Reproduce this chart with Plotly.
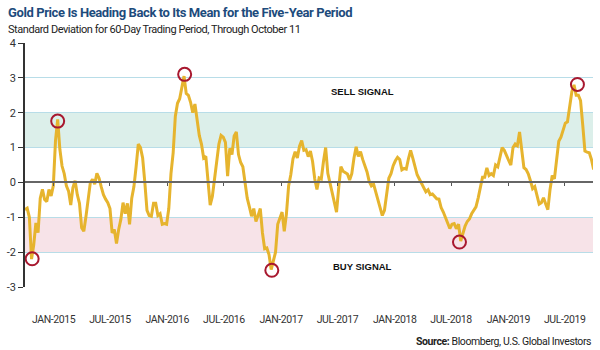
import pandas as pd
import plotly.graph_objects as go

# ---- data ----
start_date = "2014-10-01"
std_dev = [
    -0.78, -0.74, -1.0, -2.2, -1.8, -1.16, -1.44, -0.45, -0.2, -0.49,
    -0.55, -0.2, -0.39, -0.1, 1.2, 1.81, 0.95, 0.47, 0.25, -0.1,
    -0.25, -0.65, -0.15, 0.05, -0.35, -0.6, -1.3, -1.4, -0.97, -0.55,
    0.0, 0.09, -0.05, 0.26, 0.12, -0.13, -0.35, -0.48, -0.58, -0.75,
    -1.45, -1.35, -1.75, -1.35, -1.06, -0.58, -0.9, -0.6, -1.2, -0.45,
    -0.12, 0.45, 1.1, 1.0, 0.7, 0.0, -0.8, -0.95, -0.97, -0.6,
    -0.6, -0.95, -0.9, -1.2, -1.18, -1.2, -0.75, 0.25, 0.85, 1.9,
    2.27, 2.4, 2.7, 3.05, 2.55, 2.5, 2.3, 2.0, 2.25, 1.85,
    1.35, 1.1, 0.7, 0.75, 0.05, -0.65, -0.4, 0.15, 0.7, 1.1,
    1.35, 1.3, 1.15, 0.18, 0.98, 0.8, 1.33, 1.45, 0.8, 0.57,
    0.45, 0.0, -0.45, -0.7, -0.97, -0.75, -1.12, -0.95, -0.75, -1.45,
    -1.9, -1.88, -2.07, -2.5, -2.25, -2.0, -1.2, -1.03, -0.85, -1.4,
    -0.9, -0.1, 0.22, 0.68, 0.88, 0.7, 1.04, 1.2, 0.92, 0.94,
    0.74, 0.9, 0.6, 0.1, -0.2, 0.13, 0.1, 0.6, 1.0, 0.26,
    -0.04, -0.24, -0.58, -0.85, -0.15, 0.45, 0.32, 0.28, 0.24, 0.07,
    0.25, 0.7, 1.02, 0.75, 0.88, 0.66, 0.5, 0.3, 0.03, -0.1,
    -0.05, -0.26, -0.47, -0.72, -0.95, -0.8, -0.25, 0.12, 0.25, 0.48,
    0.62, 0.72, 0.66, 0.36, 0.4, 0.38, 0.68, 0.92, 0.7, 0.43,
    0.22, 0.1, -0.02, -0.15, -0.27, -0.21, -0.35, -0.33, -0.39, -0.47,
    -0.48, -0.72, -0.85, -1.0, -1.15, -1.32, -1.2, -1.18, -1.33, -1.2,
    -1.68, -1.45, -1.25, -1.12, -1.05, -0.9, -0.78, -0.7, -0.45, -0.15,
    0.15, 0.15, 0.42, 0.2, 0.25, 0.2, 0.5, 0.45, 0.77, 1.0,
    0.92, 0.76, 0.63, 0.5, 1.0, 1.1, 1.05, 1.45, 0.95, 0.42,
    0.37, 0.25, 0.05, -0.18, -0.12, -0.37, -0.62, -0.58, -0.44, -0.62,
    -0.78, -0.2, 0.2, 0.1, 0.75, 1.18, 1.3, 1.54, 1.7, 1.74,
    2.15, 2.6, 2.8, 2.5, 2.5, 2.35, 1.65, 0.9, 0.87, 0.85,
    0.66, 0.37,
]
dates = pd.date_range(start_date, periods=len(std_dev), freq="7D")

circle_dates = ["2014-10-24", "2015-01-14", "2016-02-26", "2016-12-02", "2018-07-28", "2019-08-11"]
circle_values = [-2.19, 1.76, 3.1, -2.52, -1.71, 2.81]

tick_dates = ["2015-01-01", "2015-07-01", "2016-01-01", "2016-07-01", "2017-01-01",
              "2017-07-01", "2018-01-01", "2018-07-01", "2019-01-01", "2019-07-01"]
tick_labels = ["JAN-2015", "JUL-2015", "JAN-2016", "JUL-2016", "JAN-2017",
               "JUL-2017", "JAN-2018", "JUL-2018", "JAN-2019", "JUL-2019"]
y_ticks = [-3, -2, -1, 0, 1, 2, 3, 4]
y_tick_labels = ["-3", "-2", "-1", "0", "1", "2", "3", "4"]

title = "Gold Price Is Heading Back to Its Mean for the Five-Year Period"
subtitle = "Standard Deviation for 60-Day Trading Period, Through October 11"
source_label = "Source:"
source_text = "Bloomberg, U.S. Global Investors"
sell_label = "SELL SIGNAL"
buy_label = "BUY SIGNAL"

x_range = ["2014-10-01", "2019-09-30"]
y_range = [-3, 4]

FONT = "Roboto, Liberation Sans, Arial, sans-serif"


def tight(text, spacing):
    return f'<span style="letter-spacing:{spacing}px">{text}</span>'


fig = go.Figure()
fig.add_trace(go.Scatter(
    x=dates, y=std_dev, mode="lines",
    line=dict(color="#e6b42e", width=3),
    hoverinfo="skip", showlegend=False,
))
fig.add_trace(go.Scatter(
    x=circle_dates, y=circle_values, mode="markers", xaxis="x2",
    marker=dict(symbol="circle", size=13, color="rgba(0,0,0,0)",
                line=dict(color="#a8182f", width=2)),
    hoverinfo="skip", showlegend=False,
))

fig.add_hrect(y0=1, y1=2, fillcolor="#dcefea", line_width=0, layer="below")
fig.add_hrect(y0=-2, y1=-1, fillcolor="#f7e3e8", line_width=0, layer="below")

fig.update_layout(
    width=600, height=350,
    margin=dict(l=22, r=7, t=43, b=63),
    paper_bgcolor="white", plot_bgcolor="white",
    font=dict(family=FONT, color="#333333", size=11),
    xaxis=dict(
        type="date", range=x_range, anchor="free", position=3 / 7,
        showline=True, linecolor="#666666", linewidth=1.5,
        ticks="outside", ticklen=3, tickwidth=1, tickcolor="#555555",
        tickvals=tick_dates, showticklabels=False, showgrid=False, zeroline=False,
    ),
    xaxis2=dict(
        type="date", overlaying="x", matches="x", anchor="y", side="bottom",
        showline=False, ticks="", showgrid=False, zeroline=False,
        tickvals=tick_dates, ticktext=[tight(t, -0.4) for t in tick_labels],
        ticklabelstandoff=24,
        tickfont=dict(family=FONT, size=10.5, color="#333333"),
    ),
    yaxis=dict(
        range=y_range, tickvals=y_ticks, ticktext=y_tick_labels,
        showline=True, linecolor="#333333", linewidth=1.5,
        ticks="outside", ticklen=5, tickcolor="#333333",
        showgrid=True, gridcolor="#b8dde8", gridwidth=1, zeroline=False,
        tickfont=dict(family=FONT, size=11, color="#333333"),
    ),
)

fig.add_annotation(text=tight(f"<b>{title}</b>", -0.4), xref="paper", yref="paper",
                   x=-0.0333, y=1.127, xanchor="left", yanchor="middle", showarrow=False,
                   font=dict(family=FONT, size=13, color="#1d4b7c"))
fig.add_annotation(text=tight(subtitle, -0.45), xref="paper", yref="paper",
                   x=-0.0333, y=1.057, xanchor="left", yanchor="middle", showarrow=False,
                   font=dict(family=FONT, size=11, color="#222222"))
fig.add_annotation(text=tight(f"<b>{source_label}</b> {source_text}", -0.4),
                   xref="paper", yref="paper",
                   x=1, y=-0.225, xanchor="right", yanchor="middle", showarrow=False,
                   font=dict(family=FONT, size=10.5, color="#222222"))
fig.add_annotation(text=f"<b>{sell_label}</b>", x="2017-09-18", y=2.6, showarrow=False,
                   font=dict(family="Liberation Sans, Arial, sans-serif", size=9.5, color="#111111"))
fig.add_annotation(text=f"<b>{buy_label}</b>", x="2017-09-18", y=-2.41, showarrow=False,
                   font=dict(family="Liberation Sans, Arial, sans-serif", size=9.5, color="#111111"))

fig.write_html("out.html")
